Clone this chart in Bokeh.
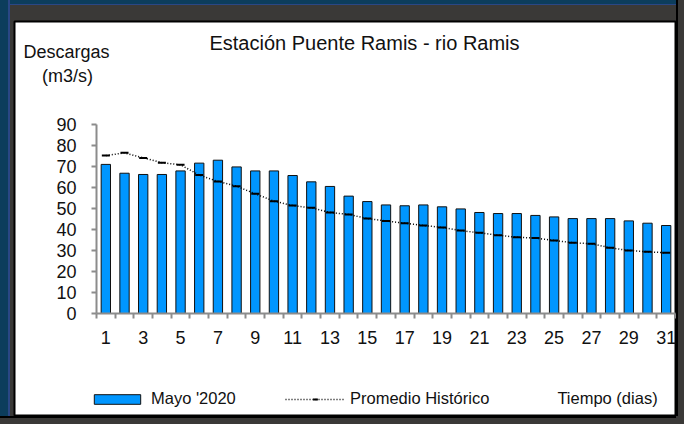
from bokeh.plotting import figure
from bokeh.models import (ColumnDataSource, FixedTicker, Label, Legend, LegendItem,
                          Range1d)
from bokeh.embed import file_html
from bokeh.resources import INLINE

# ---- data ----
dias = list(range(1, 32))
mayo_2020 = [71.0, 66.8, 66.2, 66.2, 67.9, 71.6, 73.0, 69.8, 67.9, 67.9, 65.7,
             62.7, 60.5, 55.9, 53.3, 51.7, 51.3, 51.7, 50.8, 49.8, 48.1, 47.6,
             47.6, 46.7, 46.0, 45.2, 45.2, 45.2, 44.1, 43.0, 41.9]
promedio_historico = [75.2, 76.5, 74.1, 71.8, 70.8, 65.9, 62.9, 60.6, 57.0, 53.5,
                      51.4, 50.3, 48.1, 47.2, 45.2, 44.1, 43.0, 41.9, 41.0, 39.5,
                      38.4, 37.3, 36.3, 35.9, 34.8, 33.7, 33.2, 31.3, 30.0, 29.4, 28.9]
y_ticks = [0, 10, 20, 30, 40, 50, 60, 70, 80, 90]
x_label_ticks = list(range(1, 32, 2))

titulo = "Estación Puente Ramis - rio Ramis"
eje_y_1 = "Descargas"
eje_y_2 = "(m3/s)"
eje_x = "Tiempo (dias)"
serie_barras = "Mayo '2020"
serie_linea = "Promedio Histórico"

FONT = "Liberation Sans"
TXT = "#111111"
AX = "#8c8c8c"
GRAY = "#3a3937"
BLUE = "#0c3d5c"

src = ColumnDataSource(dict(dia=dias, mayo=mayo_2020, prom=promedio_historico))

# The frame is the white panel; the axes are pinned at x=0.5 / y=0 inside it.
p = figure(width=676, height=416, output_backend="svg", toolbar_location=None,
           x_range=Range1d(-3.8904, 31.5535), y_range=Range1d(-49.048, 139.048),
           min_border_left=14, min_border_right=0, min_border_top=21,
           min_border_bottom=0)
p.border_fill_color = None
p.background_fill_color = "white"
p.outline_line_color = "black"
p.outline_line_width = 2
p.grid.visible = False
p.styles = {
    "background-color": GRAY,
    "box-shadow": (f"inset 8px 0 0 0 {BLUE}, inset 10px 0 0 0 #2a4785, "
                   f"inset 0 4px 0 0 {BLUE}, inset 0 5px 0 0 #2a4785, "
                   f"0 2px 0 0 #000000, 2px 0 0 0 #000000, "
                   f"0 8px 0 0 {GRAY}, 8px 0 0 0 {GRAY}, 8px 8px 0 0 {GRAY}"),
}

bars = p.vbar(x="dia", top="mayo", width=0.5, source=src, fill_color="#0096ff",
              line_color="#111111", line_width=1)
line = p.line(x="dia", y="prom", source=src, line_color="black", line_width=1.5,
              line_dash="1 2")
marks = p.scatter(x="dia", y="prom", source=src, marker="dash", size=8,
                  line_color="black", line_width=2)

# axes
xa = p.xaxis[0]
xa.fixed_location = 0
xa.bounds = (0.5, 31.5)
xa.ticker = FixedTicker(ticks=x_label_ticks,
                        minor_ticks=[d - 0.5 for d in dias] + [dias[-1] + 0.5])
xa.major_tick_line_color = None
xa.major_tick_out = 5
xa.major_tick_in = 0
xa.minor_tick_line_color = AX
xa.minor_tick_line_width = 2
xa.minor_tick_out = 5
xa.minor_tick_in = 0
xa.axis_line_color = AX
xa.axis_line_width = 2
xa.major_label_text_font = FONT
xa.major_label_text_font_size = "18px"
xa.major_label_text_color = TXT
xa.major_label_standoff = 13

ya = p.yaxis[0]
ya.fixed_location = 0.5
ya.bounds = (0, 90)
ya.ticker = FixedTicker(ticks=y_ticks)
ya.minor_tick_line_color = None
ya.major_tick_line_color = AX
ya.major_tick_line_width = 2
ya.major_tick_out = 5
ya.major_tick_in = 0
ya.axis_line_color = AX
ya.axis_line_width = 2
ya.major_label_text_font = FONT
ya.major_label_text_font_size = "18px"
ya.major_label_text_color = TXT
ya.major_label_standoff = 15

def lab(text, x, y, size):
    p.add_layout(Label(x=x, y=y, x_units="screen", y_units="screen", text=text,
                       text_font=FONT, text_font_size=size, text_color=TXT,
                       text_align="center", text_baseline="middle"))

lab(titulo, 350, 374, "20px")
lab(eje_y_1, 52, 365, "18px")
lab(eje_y_2, 53, 341, "18px")
lab(eje_x, 593, 19, "16.5px")

common = dict(orientation="horizontal", glyph_height=12, label_height=12,
              label_standoff=5, padding=0, margin=0, border_line_color=None,
              background_fill_alpha=0, label_text_font=FONT,
              label_text_font_size="16.5px", label_text_color=TXT)
leg1 = Legend(items=[LegendItem(label=serie_barras, renderers=[bars])],
              location=(74, 8), glyph_width=58, **common)
leg2 = Legend(items=[LegendItem(label=serie_linea, renderers=[line, marks])],
              location=(271, 8), glyph_width=60, **common)
p.add_layout(leg1)
p.add_layout(leg2)

open("out.html", "w").write(file_html(p, INLINE))
